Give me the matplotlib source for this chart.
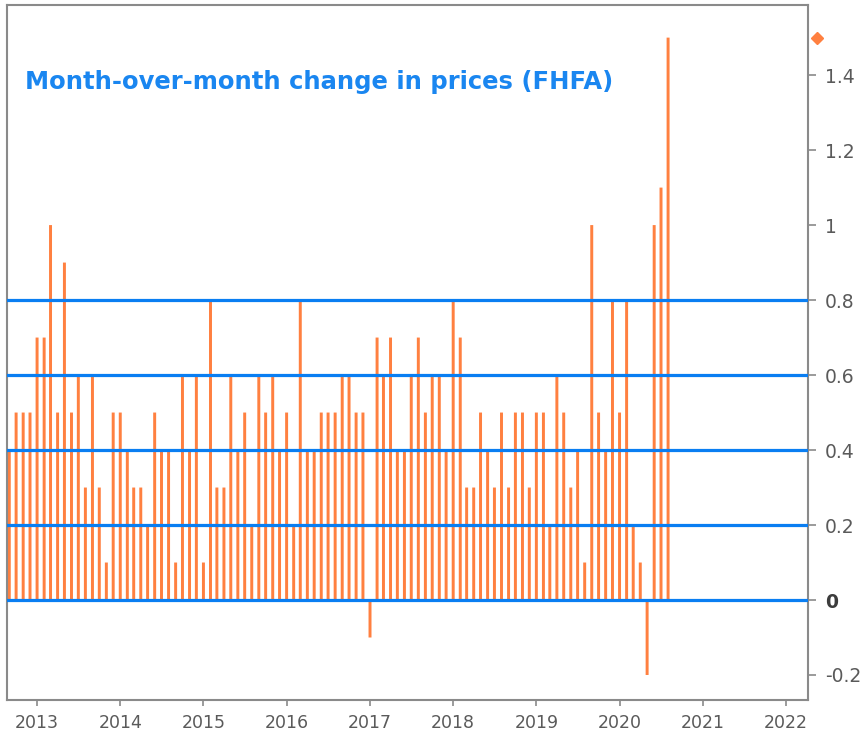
#!/usr/bin/env python3
"""Month-over-month change in house prices (FHFA), monthly bars."""
import datetime as dt

import matplotlib
matplotlib.use("Agg")
import matplotlib.pyplot as plt
import matplotlib.dates as mdates
import matplotlib.transforms as mtransforms

# monthly values, Sep 2012 .. Aug 2020
START_YEAR, START_MONTH = 2012, 9
mom_change = [
    0.4, 0.5, 0.5, 0.5,                                              # 2012 Sep-Dec
    0.7, 0.7, 1.0, 0.5, 0.9, 0.5, 0.6, 0.3, 0.6, 0.3, 0.1, 0.5,      # 2013
    0.5, 0.4, 0.3, 0.3, 0.2, 0.5, 0.4, 0.4, 0.1, 0.6, 0.4, 0.6,      # 2014
    0.1, 0.8, 0.3, 0.3, 0.6, 0.4, 0.5, 0.2, 0.6, 0.5, 0.6, 0.4,      # 2015
    0.5, 0.2, 0.8, 0.4, 0.4, 0.5, 0.5, 0.5, 0.6, 0.6, 0.5, 0.5,      # 2016
    -0.1, 0.7, 0.6, 0.7, 0.4, 0.4, 0.6, 0.7, 0.5, 0.6, 0.6, 0.4,     # 2017
    0.8, 0.7, 0.3, 0.3, 0.5, 0.4, 0.3, 0.5, 0.3, 0.5, 0.5, 0.3,      # 2018
    0.5, 0.5, 0.2, 0.6, 0.5, 0.3, 0.4, 0.1, 1.0, 0.5, 0.4, 0.8,      # 2019
    0.5, 0.8, 0.2, 0.1, -0.2, 1.0, 1.1, 1.5,                         # 2020 Jan-Aug
]
grid_levels = [0, 0.2, 0.4, 0.6, 0.8]
y_ticks = [-0.2, 0, 0.2, 0.4, 0.6, 0.8, 1, 1.2, 1.4]
y_labels = ["-0.2", "0", "0.2", "0.4", "0.6", "0.8", "1", "1.2", "1.4"]
years = list(range(2013, 2023))
TITLE = "Month-over-month change in prices (FHFA)"

BAR_COLOR = "#ff8040"
LINE_COLOR = "#0a7ef2"
TITLE_COLOR = "#1a86f0"
TICK_COLOR = "#5a5a5a"
SPINE_COLOR = "#8a8a8a"


def month_dates(n):
    out = []
    y, m = START_YEAR, START_MONTH
    for _ in range(n):
        out.append(dt.date(y, m, 1))
        m += 1
        if m > 12:
            y, m = y + 1, 1
    return out


dates = month_dates(len(mom_change))

fig = plt.figure(figsize=(8.67, 7.4), dpi=100)
ax = fig.add_axes([7 / 867, 1 - 700 / 740, 801 / 867, 695 / 740])

ax.bar(dates, mom_change, width=13, color=BAR_COLOR, linewidth=0, snap=False, zorder=2)
for lvl in grid_levels:
    ax.axhline(lvl, color=LINE_COLOR, linewidth=2.3, zorder=3)

ax.set_xlim(dt.date(2012, 8, 22), dt.date(2022, 4, 7))
ax.set_ylim(-0.2667, 1.587)

# y axis on the right
ax.yaxis.tick_right()
ax.set_yticks(y_ticks)
ax.set_yticklabels(y_labels)
ax.tick_params(axis="y", direction="out", length=6, width=1.2, color=SPINE_COLOR,
               labelsize=13.5, labelcolor=TICK_COLOR, pad=6)
for lab in ax.get_yticklabels():
    if lab.get_text() == "0":
        lab.set_fontweight("bold")
        lab.set_color("#3c3c3c")

ax.set_xticks([dt.date(y, 1, 1) for y in years])
ax.xaxis.set_major_formatter(mdates.DateFormatter("%Y"))
ax.tick_params(axis="x", direction="out", length=4, width=1.2, color=SPINE_COLOR,
               labelsize=12.5, labelcolor=TICK_COLOR, pad=6)

for sp in ax.spines.values():
    sp.set_color(SPINE_COLOR)
    sp.set_linewidth(1.5)

# marker for the latest value, just outside the right edge
trans = mtransforms.blended_transform_factory(ax.transAxes, ax.transData)
ax.plot([1.0112], [mom_change[-1]], marker="D", markersize=6, color=BAR_COLOR,
        transform=trans, clip_on=False, zorder=5)

fig.text(25 / 867, 1 - 82 / 740, TITLE, color=TITLE_COLOR, fontsize=17.5,
         fontweight="bold", va="center", ha="left")

fig.savefig("out.png", dpi=100)
